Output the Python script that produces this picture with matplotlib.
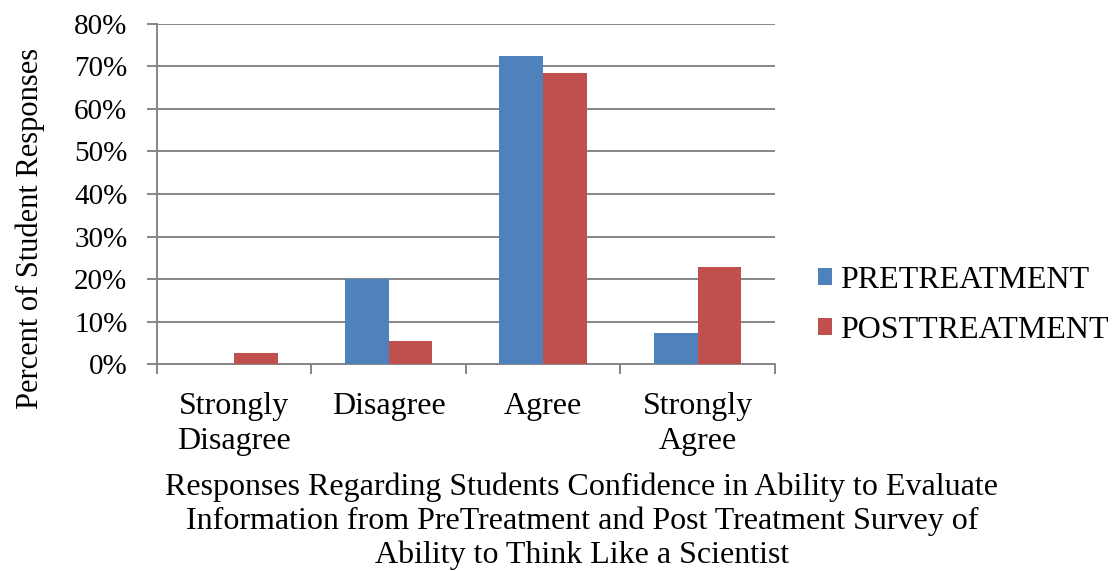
import matplotlib.pyplot as plt
import numpy as np
from matplotlib.ticker import PercentFormatter

# категории и проценты ответов
categories = ["Strongly\nDisagree", "Disagree", "Agree", "Strongly\nAgree"]
pretreatment = [0.0, 20.0, 72.4, 7.3]
posttreatment = [2.7, 5.5, 68.5, 22.8]

plt.rcParams['font.family'] = ['Liberation Serif', 'DejaVu Serif']
plt.rcParams['font.size'] = 23

fig = plt.figure(figsize=(11.19, 5.71), dpi=100)
ax = fig.add_axes([0.140, 0.3625, 0.5526, 0.5955])

x = np.arange(len(categories))
w = 0.283
ax.bar(x - w / 2, pretreatment, w, color="#4F81BD", label="PRETREATMENT", zorder=3)
ax.bar(x + w / 2, posttreatment, w, color="#C0504D", label="POSTTREATMENT", zorder=3)

ax.set_xlim(-0.5, len(categories) - 0.5)
ax.set_ylim(0, 80)
ax.set_yticks(range(0, 81, 10))
ax.yaxis.set_major_formatter(PercentFormatter(decimals=0))
ax.grid(axis="y", color="#868686", linewidth=1.4, zorder=0)

# подписи категорий без тиков, тики между категориями
ax.set_xticks(x)
ax.set_xticklabels(categories, linespacing=1.3)
ax.tick_params(axis="x", length=0, pad=20)
ax.set_xticks(np.arange(-0.5, len(categories)), minor=True)
ax.tick_params(axis="x", which="minor", length=7, width=1.4, color="#868686")
ax.tick_params(axis="y", length=7, width=1.4, color="#868686", pad=14, labelsize=21)

for s in ["top", "right"]:
    ax.spines[s].set_visible(False)
for s in ["left", "bottom"]:
    ax.spines[s].set_color("#868686")
    ax.spines[s].set_linewidth(1.4)

ax.set_ylabel("Percent of Student Responses", fontsize=22)
ax.yaxis.set_label_coords(-0.181, 0.40)

# подпись оси X - три строки под графиком
fig.text(0.52, 1 - 521 / 571,
         "Responses Regarding Students Confidence in Ability to Evaluate\n"
         "Information from PreTreatment and Post Treatment Survey of\n"
         "Ability to Think Like a Scientist",
         ha="center", va="center", linespacing=1.19)

fig.legend(loc="center left", bbox_to_anchor=(0.731, 0.465), frameon=False,
           handlelength=0.45, handleheight=0.45, handletextpad=0.25,
           labelspacing=0.66, borderpad=0, borderaxespad=0)

fig.savefig("out.png", dpi=100)
